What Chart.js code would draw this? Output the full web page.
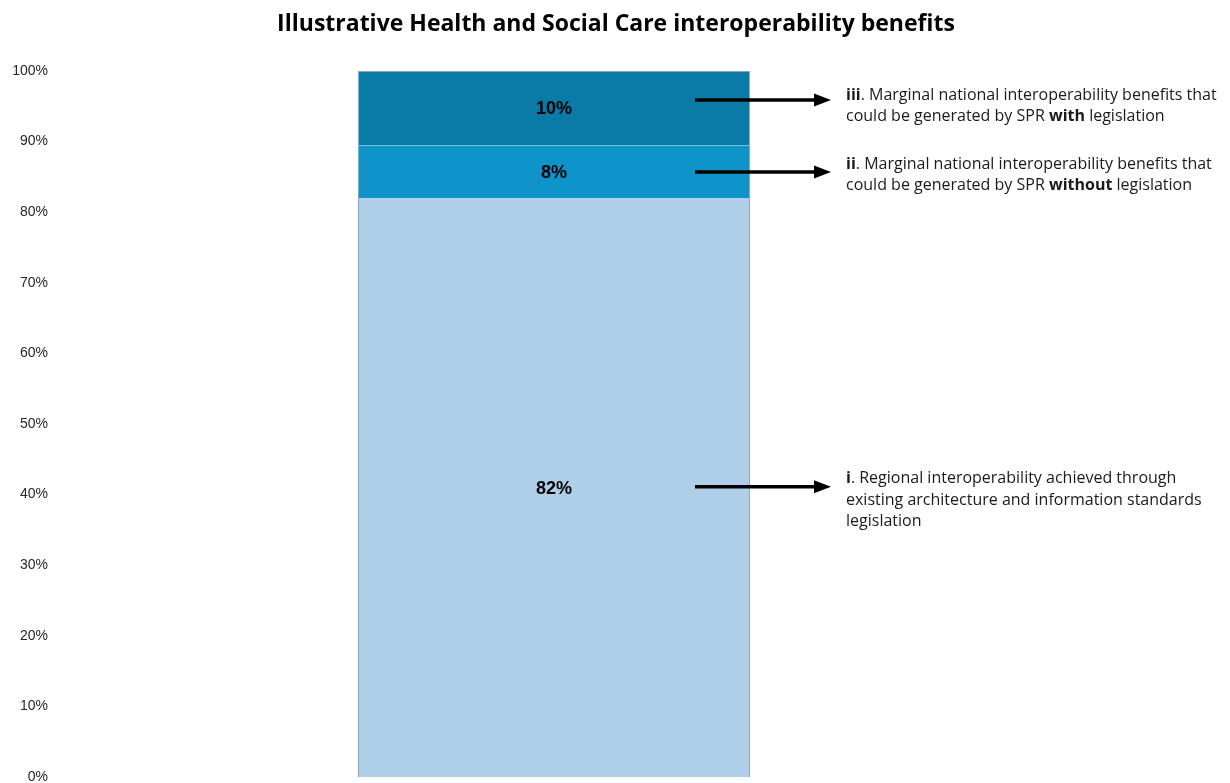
<!DOCTYPE html>
<html>
<head>
<meta charset="utf-8">
<script src="https://cdn.jsdelivr.net/npm/chart.js@4.4.1/dist/chart.umd.min.js"></script>
<style>
  body { margin: 0; background: #fff; }
  #wrap { width: 1230px; height: 783px; }
</style>
</head>
<body>
<div id="wrap"><canvas id="myChart"></canvas></div>
<script>
const categories = ['Benefits']
const seriesNames = ['i', 'ii', 'iii']
const values = [82, 7.5, 10.5]
const valueLabels = ['82%', '8%', '10%']
const colors = ['#aecfe7', '#0e94c8', '#0a7aa7']
const yTicks = [0, 10, 20, 30, 40, 50, 60, 70, 80, 90, 100]
const title = 'Illustrative Health and Social Care interoperability benefits'

// annotation text: [text, bold] parts per line
const notes = [
    [[['i', true], ['. Regional interoperability achieved through', false]],
     [['existing architecture and information standards', false]],
     [['legislation', false]]],
    [[['ii', true], ['. Marginal national interoperability benefits that', false]],
     [['could be generated by SPR ', false], ['without', true], [' legislation', false]]],
    [[['iii', true], ['. Marginal national interoperability benefits that', false]],
     [['could be generated by SPR ', false], ['with', true], [' legislation', false]]]
]
const arrowAt = [41.1, 85.7, 95.9]
const textOffset = [-8, -8, -5]

const notesPlugin = {
    id: 'notes',
    afterDatasetsDraw(chart) {
        const ctx = chart.ctx
        const y = chart.scales.y
        ctx.save()
        // title
        ctx.fillStyle = '#000'
        ctx.font = 'bold 23px "Open Sans"'
        ctx.textAlign = 'center'
        ctx.textBaseline = 'middle'
        ctx.fillText(title, 616, 24)
        // value labels inside the segments
        chart.data.datasets.forEach((ds, i) => {
            const bar = chart.getDatasetMeta(i).data[0]
            ctx.font = 'bold 18px "Liberation Sans", Arial'
            ctx.fillText(valueLabels[i], bar.x, (bar.y + bar.base) / 2 + 1)
        })
        // arrows and notes
        notes.forEach((lines, i) => {
            const ay = y.getPixelForValue(arrowAt[i])
            ctx.strokeStyle = '#000'
            ctx.lineWidth = 3.5
            ctx.beginPath()
            ctx.moveTo(695, ay)
            ctx.lineTo(816, ay)
            ctx.stroke()
            ctx.fillStyle = '#000'
            ctx.beginPath()
            ctx.moveTo(814, ay - 6.5)
            ctx.lineTo(831, ay)
            ctx.lineTo(814, ay + 6.5)
            ctx.closePath()
            ctx.fill()
            ctx.textAlign = 'left'
            ctx.fillStyle = '#1a1a1a'
            const top = ay + textOffset[i]
            lines.forEach((parts, k) => {
                let x = 846
                parts.forEach(([t, b]) => {
                    ctx.font = (b ? 'bold ' : '') + '16px "Open Sans"'
                    ctx.fillText(t, x, top + k * 21.5)
                    x += ctx.measureText(t).width
                })
            })
        })
        ctx.restore()
    }
}

new Chart(document.getElementById('myChart'), {
    type: 'bar',
    data: {
        labels: categories,
        datasets: values.map((v, i) => ({
            label: seriesNames[i],
            data: [v],
            backgroundColor: colors[i],
            borderColor: '#8aa5bb',
            borderWidth: {left: 1, right: 1, top: i == 2 ? 1 : 0, bottom: 0},
            borderSkipped: false,
            barPercentage: 0.3904,
            categoryPercentage: 1
        }))
    },
    options: {
        responsive: true,
        maintainAspectRatio: false,
        animation: false,
        layout: { padding: { left: 0, right: 174, top: 71, bottom: 6 } },
        scales: {
            x: { stacked: true, display: false },
            y: {
                stacked: true,
                min: 0,
                max: 100,
                grid: { display: false, drawTicks: false, tickLength: 0 },
                border: { display: false },
                afterBuildTicks: (axis) => { axis.ticks = yTicks.map(v => ({ value: v })) },
                afterFit: (axis) => {
                    axis.width = 52
                    axis.paddingTop = 0
                    axis.paddingBottom = 0
                },
                ticks: {
                    padding: 4,
                    color: '#262626',
                    font: { family: '"Liberation Sans", Arial', size: 14 },
                    callback: (v) => v + '%'
                }
            }
        },
        plugins: {
            legend: { display: false },
            tooltip: { enabled: false },
            title: { display: false }
        }
    },
    plugins: [notesPlugin]
});
</script>
</body>
</html>
